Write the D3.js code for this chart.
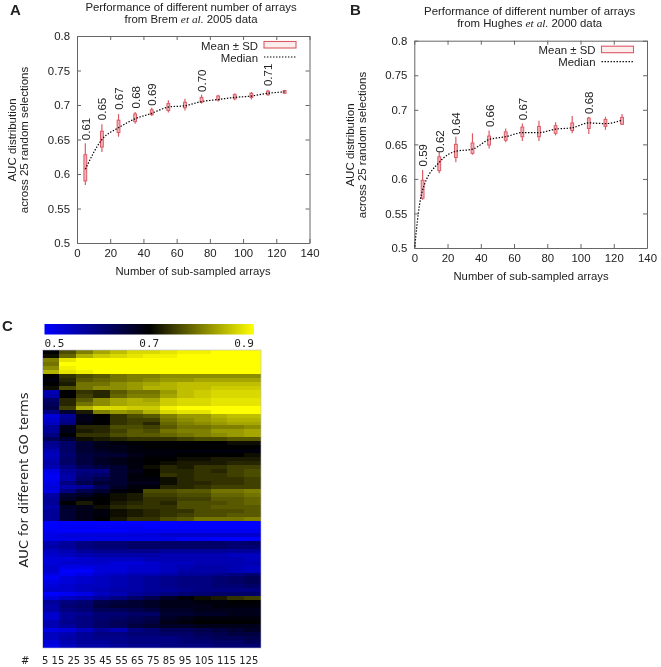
<!DOCTYPE html>
<html><head><meta charset="utf-8">
<script src="https://cdnjs.cloudflare.com/ajax/libs/d3/7.8.5/d3.min.js"></script>
<style>
html,body{margin:0;padding:0;background:#fff}
svg{display:block;filter:blur(0.5px)}
text{font-family:"Liberation Sans",Arial,sans-serif;fill:#222}
</style></head><body><svg id="c" width="661" height="667"></svg>
<script>
const sampleSizes=[5,15,25,35,45,55,65,75,85,95,105,115,125];
const xTicks=[0,20,40,60,80,100,120,140];
const yTicks=[0.5,0.55,0.6,0.65,0.7,0.75,0.8];
const yTickLabels=["0.5","0.55","0.6","0.65","0.7","0.75","0.8"];

const bremMedian=[.607,.650,.667,.680,.688,.697,.699,.705,.708,.711,.713,.717,.719];
const bremBoxLow=[.590,.639,.660,.676,.686,.692,.696,.704,.707,.709,.711,.715,.717];
const bremBoxHigh=[.628,.662,.678,.687,.693,.702,.704,.711,.713,.715,.717,.720,.721];
const bremWhiskLow=[.584,.632,.654,.673,.684,.689,.692,.702,.705,.707,.708,.713,.716];
const bremWhiskHigh=[.6445,.672,.687,.690,.696,.707,.709,.715,.715,.717,.719,.722,.722];
const bremLabelX=[5,15,25,35,45,75,115];
const bremLabels=["0.61","0.65","0.67","0.68","0.69","0.70","0.71"];
const bremLabelBase=[.649,.678,.693,.695,.699,.719,.7275];

const hughesLeadX=[0.3,2.4];
const hughesLeadY=[.502,.55];
const hughesMedian=[.584,.624,.640,.643,.657,.661,.667,.667,.672,.674,.681,.680,.685];
const hughesBoxLow=[.572,.612,.631,.637,.649,.656,.661,.661,.666,.670,.673,.676,.679];
const hughesBoxHigh=[.598,.632,.650,.652,.662,.668,.675,.676,.677,.681,.688,.686,.689];
const hughesWhiskLow=[.570,.608,.624,.635,.644,.653,.655,.655,.663,.666,.665,.671,.678];
const hughesWhiskHigh=[.613,.639,.661,.666,.670,.673,.680,.684,.682,.691,.690,.690,.694];
const hughesLabelX=[5,15,25,45,65,105];
const hughesLabels=["0.59","0.62","0.64","0.66","0.67","0.68"];
const hughesLabelBase=[.618,.638,.664,.675,.685,.694];

const colorStops=[0.5,0.7,0.9];
const colorRange=["#0000ff","#000000","#ffff00"];
const colorLabels=["0.5","0.7","0.9"];
const sizeString=sampleSizes.join(" ");
const aucPercent=[
[70,76,80,83,85,87,87,88,89,89,90,90,90],
[71,78,84,86,87,88,89,89,90,90,90,90,90],
[80,88,90,90,90,90,90,90,90,90,90,90,90],
[79,90,90,90,90,90,90,90,90,90,90,90,90],
[81,89,90,90,90,90,90,90,90,90,90,90,90],
[84,88,89,90,90,90,90,90,90,90,90,90,90],
[70,74,76,77,79,80,80,81,81,81,81,81,81],
[69,73,77,78,79,80,81,82,82,83,83,83,83],
[70,72,79,79,81,82,83,84,85,85,85,85,85],
[71,76,79,81,81,82,84,84,85,85,86,86,86],
[56,70,74,73,77,79,79,82,85,86,87,87,87],
[57,70,75,73,78,80,80,83,85,86,87,87,87],
[62,73,77,81,83,84,83,86,87,87,88,88,88],
[63,73,79,81,83,84,84,86,87,87,88,88,88],
[64,75,84,87,87,86,86,89,90,90,90,90,90],
[60,66,72,80,82,81,84,87,88,88,90,90,90],
[53,58,68,70,74,76,77,80,82,82,84,85,85],
[54,59,68,70,74,75,75,79,81,82,83,84,84],
[55,60,69,70,74,75,73,78,80,81,82,83,83],
[58,68,73,73,76,76,75,77,79,79,80,80,81],
[58,68,72,73,75,77,76,79,80,80,82,82,83],
[60,70,74,74,76,77,77,78,79,80,81,82,83],
[63,66,71,72,73,74,74,74,75,76,76,77,77],
[59,62,66,68,69,70,70,70,70,70,70,71,71],
[58,62,66,68,68,69,70,70,70,70,70,70,70],
[56,62,66,67,68,69,69,69,69,69,69,69,69],
[55,61,65,66,66,68,69,69,70,70,70,70,71],
[56,62,65,67,68,69,70,70,71,71,72,72,72],
[57,62,65,67,68,69,70,71,72,72,72,73,73],
[56,60,63,65,66,69,71,73,72,74,74,75,75],
[52,58,60,60,66,68,70,73,73,74,73,75,76],
[51,57,61,62,66,69,70,74,73,74,74,75,76],
[51,57,62,64,66,69,69,71,73,74,74,74,75],
[52,60,64,66,66,68,68,71,73,73,74,74,75],
[53,57,58,63,67,69,69,73,73,74,75,75,75],
[52,60,64,66,69,70,76,76,77,77,79,79,80],
[57,66,67,69,71,72,75,75,76,76,78,78,79],
[58,67,69,70,71,72,74,74,75,75,77,77,78],
[58,70,72,70,72,73,74,73,76,76,76,77,78],
[57,67,68,71,73,74,74,74,76,76,77,77,77],
[58,66,68,69,71,72,73,74,74,76,76,76,77],
[58,66,68,69,71,72,73,74,75,76,76,77,77],
[58,66,68,70,72,74,74,76,77,79,79,79,80],
[50,50,50,50,50,50,50,50,50,50,50,50,50],
[50,51,51,51,51,51,50,50,50,50,50,50,50],
[51,50,50,50,50,51,51,51,51,51,51,51,51],
[52,53,53,53,53,53,53,54,54,54,54,54,54],
[52,52,52,52,52,52,52,52,51,51,50,50,50],
[56,58,60,61,61,62,62,62,62,62,62,61,62],
[57,58,60,61,61,62,62,62,62,62,62,61,61],
[55,56,58,59,59,59,59,58,58,58,58,58,58],
[54,55,56,57,57,57,57,56,56,56,56,55,55],
[53,53,54,55,55,55,56,56,56,56,56,56,55],
[53,54,54,54,53,53,54,55,55,56,56,56,56],
[54,52,52,53,53,54,54,55,56,57,57,56,55],
[54,50,50,53,53,54,54,55,57,57,57,56,55],
[52,51,52,54,55,56,56,57,58,58,59,60,61],
[51,53,54,55,56,57,58,59,60,60,61,62,63],
[52,53,54,55,56,57,58,59,60,60,61,62,63],
[53,54,55,55,56,57,58,59,60,60,61,61,62],
[54,54,55,56,57,57,58,58,59,60,60,60,60],
[50,51,52,55,56,58,59,60,61,61,62,62,62],
[53,55,56,58,60,62,64,67,69,71,72,74,75],
[58,60,61,64,65,66,67,68,68,69,69,70,70],
[57,61,62,65,66,66,67,68,68,68,69,69,69],
[57,60,61,63,63,64,65,67,67,68,68,68,68],
[54,58,59,61,61,62,62,66,66,67,67,68,68],
[54,58,60,61,62,63,64,67,68,69,69,69,69],
[56,59,60,62,63,64,65,68,69,70,70,70,70],
[56,58,60,62,63,65,66,67,67,68,68,68,68],
[52,53,55,58,56,60,61,63,63,64,65,66,67],
[55,56,58,60,60,61,61,62,62,63,64,65,65],
[55,57,58,59,59,60,60,60,61,62,63,63,64],
[53,56,58,58,59,60,60,60,61,61,62,62,63],
[52,55,57,57,58,59,59,60,60,60,61,61,61]];

const svg=d3.select("#c");
const red="#dc5a66";

function panel(o){
  const x=d3.scaleLinear().domain([0,140]).range([o.x0,o.x1]);
  const y=d3.scaleLinear().domain([0.5,0.8]).range([o.y0,o.y1]);
  const g=svg.append("g");
  const fmt=v=>yTickLabels[yTicks.indexOf(v)];
  const style=a=>{a.selectAll("path,line").attr("stroke","#666").attr("stroke-width",1);
    a.selectAll("text").attr("font-size",11.4).attr("fill","#222").style("font-family",'"Liberation Sans",Arial,sans-serif');};
  g.append("g").attr("transform",`translate(0,${o.y0})`).call(d3.axisBottom(x).tickValues(xTicks).tickSizeInner(-4).tickSizeOuter(0).tickPadding(6)).call(style);
  g.append("g").attr("transform",`translate(0,${o.y1})`).call(d3.axisTop(x).tickValues(xTicks).tickSizeInner(-4).tickSizeOuter(0).tickFormat("")).call(style);
  g.append("g").attr("transform",`translate(${o.x0},0)`).call(d3.axisLeft(y).tickValues(yTicks).tickFormat(fmt).tickSizeInner(-4).tickSizeOuter(0).tickPadding(7)).call(style);
  g.append("g").attr("transform",`translate(${o.x1},0)`).call(d3.axisRight(y).tickValues(yTicks).tickSizeInner(-4).tickSizeOuter(0).tickFormat("")).call(style);

  const pts=sampleSizes.map((s,i)=>({s,i}));
  g.selectAll("line.w").data(pts).join("line").attr("class","w")
    .attr("x1",d=>x(d.s)).attr("x2",d=>x(d.s))
    .attr("y1",d=>y(o.wl[d.i])).attr("y2",d=>y(o.wh[d.i]))
    .attr("stroke",red).attr("stroke-width",1.2);
  g.selectAll("rect.b").data(pts).join("rect").attr("class","b")
    .attr("x",d=>x(d.s)-1.4).attr("width",2.8)
    .attr("y",d=>y(o.bh[d.i])).attr("height",d=>y(o.bl[d.i])-y(o.bh[d.i]))
    .attr("fill","#f3b4ba").attr("stroke",red).attr("stroke-width",1);

  const lineData=(o.leadX||[]).map((v,i)=>[v,o.leadY[i]]).concat(sampleSizes.map((s,i)=>[s,o.med[i]]));
  const line=d3.line().x(d=>x(d[0])).y(d=>y(d[1])).curve(d3.curveMonotoneX);
  g.append("path").attr("d",line(lineData)).attr("fill","none").attr("stroke","#000")
    .attr("stroke-width",1.2).attr("stroke-dasharray","1.4 1.6");

  g.selectAll("text.v").data(o.lx).join("text").attr("class","v")
    .attr("transform",(d,i)=>`translate(${x(d)+4.5},${y(o.lb[i])}) rotate(-90)`)
    .attr("font-size",11.5).text((d,i)=>o.lt[i]);

  // legend
  const lx=o.x1-45.5, ly=o.y1;
  g.append("text").attr("x",lx-6).attr("y",ly+13.5).attr("text-anchor","end").attr("font-size",11.4).text("Mean ± SD");
  g.append("text").attr("x",lx-6).attr("y",ly+25.5).attr("text-anchor","end").attr("font-size",11.4).text("Median");
  g.append("rect").attr("x",lx).attr("y",ly+5.5).attr("width",32).attr("height",6.5)
    .attr("fill","#fdeeee").attr("stroke",red).attr("stroke-width",1.1);
  g.append("line").attr("x1",lx).attr("x2",lx+32).attr("y1",ly+21).attr("y2",ly+21)
    .attr("stroke","#000").attr("stroke-width",1.2).attr("stroke-dasharray","1.4 1.6");

  // titles
  const t=g.append("text").attr("text-anchor","middle").attr("font-size",11.4);
  t.append("tspan").attr("x",o.tx).attr("y",o.ty).text(o.title);
  const t2=t.append("tspan").attr("x",o.tx).attr("y",o.ty+11.5);
  t2.append("tspan").text("from "+o.src+" ");
  t2.append("tspan").attr("font-style","italic").style("font-family",'"Liberation Serif",serif').text("et al.");
  t2.append("tspan").text(" "+o.year+" data");
  g.append("text").attr("x",o.xtx).attr("y",o.xty).attr("text-anchor","middle").attr("font-size",11.3).text("Number of sub-sampled arrays");
  g.append("text").attr("transform",`translate(${o.ytx},${o.yty}) rotate(-90)`).attr("text-anchor","middle").attr("font-size",11.5).text("AUC distribution");
  g.append("text").attr("transform",`translate(${o.ytx+12},${o.yty}) rotate(-90)`).attr("text-anchor","middle").attr("font-size",11.5).text("across 25 random selections");
}

panel({x0:77,x1:309.5,y0:243,y1:36,med:bremMedian,bl:bremBoxLow,bh:bremBoxHigh,wl:bremWhiskLow,wh:bremWhiskHigh,
  lx:bremLabelX,lt:bremLabels,lb:bremLabelBase,title:"Performance of different number of arrays",src:"Brem",year:"2005",
  tx:191,ty:11,xtx:193,xty:275,ytx:16,yty:140});
panel({x0:414.3,x1:647,y0:248,y1:40.7,med:hughesMedian,bl:hughesBoxLow,bh:hughesBoxHigh,wl:hughesWhiskLow,wh:hughesWhiskHigh,
  leadX:hughesLeadX,leadY:hughesLeadY,lx:hughesLabelX,lt:hughesLabels,lb:hughesLabelBase,
  title:"Performance of different number of arrays",src:"Hughes",year:"2000",
  tx:529.7,ty:15,xtx:531,xty:280,ytx:354,yty:145});

// panel letters
[["A",10,14.5],["B",350,15],["C",2,331]].forEach(([s,a,b])=>{
  svg.append("text").attr("x",a).attr("y",b).attr("font-size",15).attr("font-weight","bold").attr("fill","#111").text(s);
});

// heatmap
const color=d3.scaleLinear().domain(colorStops).range(colorRange).clamp(true);
const hx=d3.scaleBand().domain(sampleSizes).range([42.5,261]);
const hy=d3.scaleBand().domain(d3.range(aucPercent.length)).range([350,648]);
const hm=svg.append("g").attr("shape-rendering","crispEdges");
aucPercent.forEach((row,r)=>{
  hm.selectAll(null).data(row).join("rect")
    .attr("x",(d,i)=>hx(sampleSizes[i])).attr("y",hy(r))
    .attr("width",(d,i)=>i<12?hx.bandwidth()+1:hx.bandwidth())
    .attr("height",r<aucPercent.length-1?hy.bandwidth()+1:hy.bandwidth())
    .attr("fill",d=>color(d/100));
});
svg.append("rect").attr("x",42.5).attr("y",350).attr("width",218.5).attr("height",298)
  .attr("fill","none").attr("stroke","#b8b8d8").attr("stroke-width",.6);

// colour bar
const cbx=d3.scaleLinear().domain([0.5,0.9]).range([44.5,254]);
const defs=svg.append("defs");
const grad=defs.append("linearGradient").attr("id","cb");
colorStops.forEach((s,i)=>grad.append("stop").attr("offset",(s-0.5)/0.4).attr("stop-color",colorRange[i]));
svg.append("rect").attr("x",cbx(0.5)).attr("y",324).attr("width",cbx(0.9)-cbx(0.5)).attr("height",10.5).attr("fill","url(#cb)");
svg.selectAll("text.cl").data(colorStops).join("text").attr("class","cl")
  .attr("x",d=>cbx(d)).attr("y",347).attr("text-anchor",(d,i)=>["start","middle","end"][i])
  .attr("font-size",11).style("font-family",'"DejaVu Sans Mono",monospace').attr("fill","#333")
  .text((d,i)=>colorLabels[i]);

svg.append("text").attr("transform","translate(28,480) rotate(-90)").attr("text-anchor","middle")
  .attr("font-size",13).style("font-family",'"DejaVu Sans",sans-serif').text("AUC for different GO terms");
svg.append("text").attr("x",21).attr("y",664).attr("font-size",10).style("font-family",'"DejaVu Sans",sans-serif').text("#");
svg.append("text").attr("x",42).attr("y",664).attr("font-size",10).style("font-family",'"DejaVu Sans",sans-serif').text(sizeString);
</script></body></html>
